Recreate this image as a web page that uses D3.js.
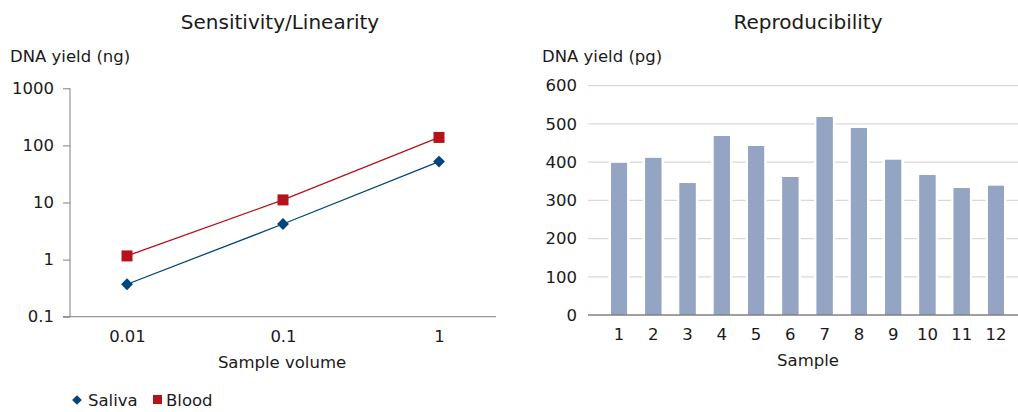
<!DOCTYPE html>
<html><head><meta charset="utf-8">
<script src="https://cdn.jsdelivr.net/npm/d3@7"></script>
<style>
body{margin:0;background:#fff;}
text{font-family:"DejaVu Sans",sans-serif;fill:#1a1a1a;}
</style></head>
<body>
<svg id="c" width="1018" height="412"></svg>
<script>
// ---- data ----
const volumes = [0.01, 0.1, 1];
const volumeLabels = ["0.01", "0.1", "1"];
const saliva = [0.37, 4.2, 52];
const blood = [1.16, 11.1, 138];
const logTicks = [0.1, 1, 10, 100, 1000];
const logTickLabels = ["0.1", "1", "10", "100", "1000"];

const samples = ["1","2","3","4","5","6","7","8","9","10","11","12"];
const yieldPg = [398, 411, 345, 468, 442, 361, 518, 489, 406, 366, 332, 338];
const barTicks = [0, 100, 200, 300, 400, 500, 600];

const svg = d3.select("#c");
const blue = "#00457c", red = "#b5121b", barColor = "#94a4c3", axisGrey = "#808080";
const FS = "16.5px";

// ---- left chart ----
const L = svg.append("g");
const yL = d3.scaleLog().domain([0.1, 1000]).range([316.7, 88.3]);
const xL = d3.scaleLog().domain([0.01, 1]).range([127, 439]);

L.append("text").attr("x", 280).attr("y", 29).attr("text-anchor", "middle")
  .style("font-size", "20px").text("Sensitivity/Linearity");
L.append("text").attr("x", 10).attr("y", 62).style("font-size", FS).text("DNA yield (ng)");

const yAxL = d3.axisLeft(yL).tickValues(logTicks).tickFormat((d, i) => logTickLabels[i]).tickSize(7).tickPadding(9);
const gyL = L.append("g").attr("transform", "translate(70,0)").call(yAxL);
gyL.select(".domain").remove();
gyL.selectAll(".tick line").attr("stroke", axisGrey);
gyL.selectAll(".tick text").style("font-size", FS).attr("fill", "#1a1a1a");
L.append("line").attr("x1", 70).attr("x2", 70).attr("y1", yL(1000)).attr("y2", yL(0.1)).attr("stroke", axisGrey);
L.append("line").attr("x1", 63).attr("x2", 496).attr("y1", yL(0.1)).attr("y2", yL(0.1)).attr("stroke", axisGrey);

const xAxL = d3.axisBottom(xL).tickValues(volumes).tickFormat((d, i) => volumeLabels[i]).tickSize(0).tickPadding(14);
const gxL = L.append("g").attr("transform", `translate(0,${yL(0.1)})`).call(xAxL);
gxL.select(".domain").remove();
gxL.selectAll(".tick text").style("font-size", FS).attr("fill", "#1a1a1a");
L.append("text").attr("x", 282).attr("y", 368).attr("text-anchor", "middle").style("font-size", FS).text("Sample volume");

const line = d3.line().x((d, i) => xL(volumes[i])).y(d => yL(d));
L.append("path").datum(blood).attr("d", line).attr("fill", "none").attr("stroke", red).attr("stroke-width", 1.3);
L.append("path").datum(saliva).attr("d", line).attr("fill", "none").attr("stroke", blue).attr("stroke-width", 1.3);
L.selectAll(".bm").data(blood).enter().append("rect")
  .attr("x", (d, i) => xL(volumes[i]) - 5.5).attr("y", d => yL(d) - 5.5)
  .attr("width", 11).attr("height", 11).attr("fill", red);
const diamond = d3.symbol().type(d3.symbolDiamond2).size(90);
L.selectAll(".sm").data(saliva).enter().append("path")
  .attr("d", diamond).attr("transform", (d, i) => `translate(${xL(volumes[i])},${yL(d)})`).attr("fill", blue);

// legend
L.append("path").attr("d", d3.symbol().type(d3.symbolDiamond2).size(60)).attr("transform", "translate(77,400)").attr("fill", blue);
L.append("text").attr("x", 88).attr("y", 406).style("font-size", FS).text("Saliva");
L.append("rect").attr("x", 153).attr("y", 395).attr("width", 9).attr("height", 9).attr("fill", red);
L.append("text").attr("x", 166).attr("y", 406).style("font-size", FS).text("Blood");

// ---- right chart ----
const R = svg.append("g");
const yR = d3.scaleLinear().domain([0, 600]).range([315, 85.7]);
const xR = d3.scaleBand().domain(samples).range([601.9, 1013.1]).paddingInner(0.533).paddingOuter(0.2665);

R.append("text").attr("x", 808).attr("y", 29).attr("text-anchor", "middle")
  .style("font-size", "20px").text("Reproducibility");
R.append("text").attr("x", 542).attr("y", 62).style("font-size", FS).text("DNA yield (pg)");

R.selectAll(".grid").data(barTicks.filter(d => d > 0)).enter().append("line")
  .attr("x1", 588).attr("x2", 1018).attr("y1", d => yR(d)).attr("y2", d => yR(d))
  .attr("stroke", "#d9d9d9").attr("stroke-width", 1.3);

const yAxR = d3.axisLeft(yR).tickValues(barTicks).tickSize(0).tickPadding(11);
const gyR = R.append("g").attr("transform", "translate(588,0)").call(yAxR);
gyR.select(".domain").remove();
gyR.selectAll(".tick text").style("font-size", FS).attr("fill", "#1a1a1a");

R.selectAll(".bar").data(yieldPg).enter().append("rect")
  .attr("x", (d, i) => xR(samples[i])).attr("width", xR.bandwidth())
  .attr("y", d => yR(d)).attr("height", d => yR(0) - yR(d))
  .attr("fill", barColor).attr("stroke", "#fff").attr("stroke-width", 5)
  .style("paint-order", "stroke");
R.selectAll(".bar2").data(yieldPg).enter().append("rect")
  .attr("x", (d, i) => xR(samples[i])).attr("width", xR.bandwidth())
  .attr("y", d => yR(d)).attr("height", d => yR(0) - yR(d))
  .attr("fill", barColor);

R.append("line").attr("x1", 588).attr("x2", 1018).attr("y1", yR(0)).attr("y2", yR(0)).attr("stroke", axisGrey).attr("stroke-width", 1.5);

const xAxR = d3.axisBottom(xR).tickSize(0).tickPadding(13);
const gxR = R.append("g").attr("transform", `translate(0,${yR(0)})`).call(xAxR);
gxR.select(".domain").remove();
gxR.selectAll(".tick text").style("font-size", FS).attr("fill", "#1a1a1a");
R.append("text").attr("x", 808).attr("y", 366).attr("text-anchor", "middle").style("font-size", FS).text("Sample");
</script>
</body></html>
